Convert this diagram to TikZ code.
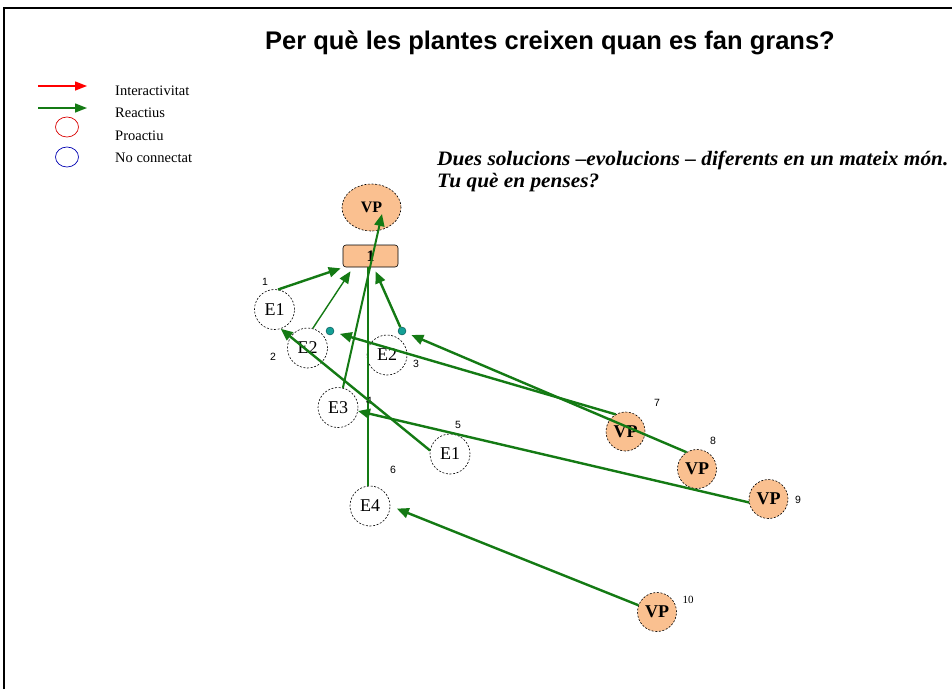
\documentclass[tikz,border=0pt]{standalone}
\usepackage{fontspec}
\setmainfont{Liberation Serif}
\setsansfont{Liberation Sans}
\usetikzlibrary{arrows.meta,shapes.geometric,calc}
\definecolor{peach}{RGB}{250,192,144}
\definecolor{edgegreen}{RGB}{20,122,20}
\definecolor{dotteal}{RGB}{20,160,150}
\tikzset{
  ecirc/.style={circle,draw=black,dash pattern=on 2pt off 1.6pt,line width=0.6pt,fill=white,
    minimum size=40pt,inner sep=0pt,font=\fontsize{18}{18}\selectfont},
  vpcirc/.style={circle,draw=black,dash pattern=on 2pt off 1.6pt,line width=0.6pt,fill=peach,
    minimum size=39pt,inner sep=0pt,font=\fontsize{18}{18}\selectfont\bfseries},
  numlab/.style={font=\sffamily\fontsize{10.5}{10.5}\selectfont,inner sep=0pt},
  tdot/.style={circle,fill=dotteal,draw=teal!60!black,line width=0.4pt,minimum size=8pt,inner sep=0pt},
  thickedge/.style={draw=edgegreen,line width=2.4pt,-{Triangle[length=12pt,width=10pt]}},
  thinedge/.style={draw=edgegreen,line width=1.4pt,-{Triangle[length=12pt,width=10pt]}},
  legtext/.style={anchor=west,inner sep=0pt,font=\fontsize{14.5}{14.5}\selectfont},
}
\begin{document}
\begin{tikzpicture}[x=1pt,y=-1pt]
\useasboundingbox (0,0) rectangle (952,689);
\fill[white] (0,0) rectangle (952,689);
% frame
\draw[line width=2pt] (4,689) -- (4,8) -- (952,8);
% title
\node[anchor=base,inner sep=0pt,font=\sffamily\bfseries\fontsize{25.5}{25.5}\selectfont] (title) at (550,49) {Per què les plantes creixen quan es fan grans?};
% legend
\coordinate (lr1) at (38,86); \coordinate (lr2) at (87,86);
\coordinate (lg1) at (38,108); \coordinate (lg2) at (87,108);
\draw[red,line width=1.4pt,-{Triangle[length=12pt,width=9pt]}] (lr1) -- (lr2);
\draw[edgegreen,line width=1.4pt,-{Triangle[length=12pt,width=9pt]}] (lg1) -- (lg2);
\node[ellipse,draw=red!85!black,line width=0.7pt,minimum width=23pt,minimum height=20pt,inner sep=0pt] (lpro) at (67,127) {};
\node[ellipse,draw=blue!70!black,line width=0.7pt,minimum width=23pt,minimum height=20pt,inner sep=0pt] (lnc) at (67,157) {};
\node[legtext] (t1) at (115,91) {Interactivitat};
\node[legtext] (t2) at (115,113) {Reactius};
\node[legtext] (t3) at (115,136) {Proactiu};
\node[legtext] (t4) at (115,158) {No connectat};
% italic text
\node[anchor=base west,inner sep=0pt,font=\fontsize{20.5}{20.5}\selectfont\bfseries\itshape] (q1) at (437,165) {\scalebox{1.04}[1]{Dues solucions –evolucions – diferents en un mateix món.}};
\node[anchor=base west,inner sep=0pt,font=\fontsize{20.5}{20.5}\selectfont\bfseries\itshape] (q2) at (437,187) {\scalebox{1.04}[1]{Tu què en penses?}};
% nodes
\node[ellipse,draw=black,dash pattern=on 2pt off 1.6pt,line width=0.6pt,fill=peach,minimum width=59pt,minimum height=47pt,inner sep=0pt,font=\fontsize{16}{16}\selectfont\bfseries] (vp) at (371.5,207.5) {VP};
\node[draw=black,line width=0.6pt,fill=peach,rounded corners=3pt,minimum width=55pt,minimum height=22pt,inner sep=0pt,font=\fontsize{16}{16}\selectfont\bfseries] (rect) at (370.5,256) {1};
\node[ecirc] (e1) at (274.5,309.5) {E1};
\node[ecirc] (e2a) at (307.5,348) {E2};
\node[ecirc] (e2b) at (387,355) {E2};
\node[ecirc] (e3) at (338,407.5) {E3};
\node[ecirc] (e1b) at (450,454) {E1};
\node[ecirc] (e4) at (370,506) {E4};
\node[vpcirc] (vp7) at (625.5,431.5) {VP};
\node[vpcirc] (vp8) at (697,469) {VP};
\node[vpcirc] (vp9) at (768.5,499) {VP};
\node[vpcirc] (vp10) at (657,612) {VP};
\node[tdot] (d1) at (330,331) {};
\node[tdot] (d2) at (402,331) {};
% number labels
\node[numlab] (n1) at (265,282) {1};
\node[numlab] (n2) at (273,357) {2};
\node[numlab] (n3) at (416,364) {3};
\node[numlab] (n5) at (458,425) {5};
\node[numlab] (n6) at (393,470) {6};
\node[numlab] (n7) at (657,403) {7};
\node[numlab] (n8) at (713,441) {8};
\node[numlab] (n9) at (798,500) {9};
\node[inner sep=0pt,font=\fontsize{11}{11}\selectfont] (n10) at (688,600) {10};
% edges
\draw[draw=edgegreen,line width=1.4pt] ($(e4.north)+(-2,0)$) -- ($(e4.north|-rect.south)+(-2,0)$);
\node[numlab] (n4) at (369,401) {4};
\draw[thickedge] (e1.80) -- ($(rect.south west)+(-2,1)$);
\draw[thinedge] (e2a.75) -- ($(rect.south)+(-20,4)$);
\draw[thickedge] (d2) -- ($(rect.south)+(5,4)$);
\draw[thickedge,line width=2pt] (e3.76) -- ($(vp)+(10.5,6.5)$);
\draw[thickedge] (e1b.170) -- (e1.-72);
\draw[thickedge,shorten >=6pt] (vp7.120) -- (d1);
\draw[thickedge,shorten >=6pt] (vp8.122) -- (d2);
\draw[thickedge] (vp9.190) -- (e3.-10);
\draw[thickedge,shorten >=7pt] (vp10.160) -- (e4.east);
\end{tikzpicture}
\end{document}
